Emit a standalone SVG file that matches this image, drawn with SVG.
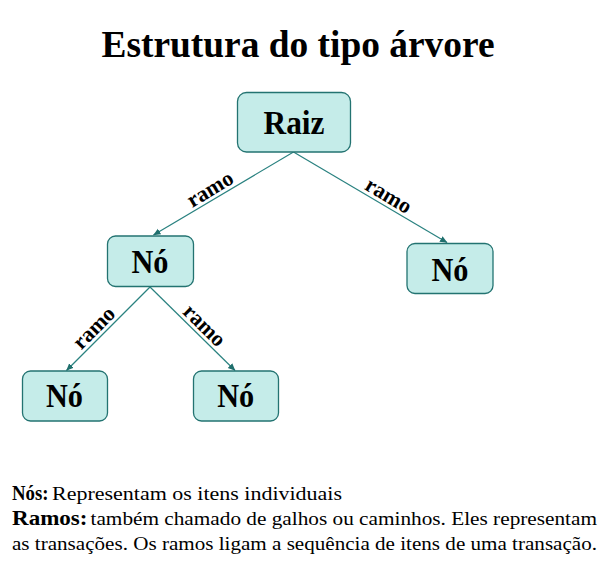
<svg xmlns="http://www.w3.org/2000/svg" width="616" height="566" viewBox="0 0 616 566">
<style>
.box{fill:#c5ece9;stroke:#237371;stroke-width:1.3}
.lbl{font-family:"Liberation Serif",serif;font-weight:bold;font-size:33px;fill:#000;text-anchor:middle}
.edge{stroke:#2a8280;stroke-width:1.2;fill:none}
.ramo{font-family:"Liberation Serif",serif;font-weight:bold;font-size:22px;fill:#000;text-anchor:middle}
.t{font-family:"Liberation Serif",serif;font-size:19.5px;fill:#000}
.b{font-weight:bold;font-size:21px}
</style>
<defs>
<marker id="ah" markerUnits="userSpaceOnUse" markerWidth="8" markerHeight="8" viewBox="0 0 8 8" refX="7" refY="4" orient="auto">
<path d="M0,0.8 L7.5,4 L0,7.2 Z" fill="#1f6f6d"/>
</marker>
</defs>
<rect width="616" height="566" fill="#fff"/>
<text x="298" y="57" font-family="Liberation Serif, serif" font-weight="bold" font-size="37" text-anchor="middle" textLength="393" lengthAdjust="spacingAndGlyphs">Estrutura do tipo árvore</text>
<g id="connectors">
<line class="edge" x1="293.5" y1="152" x2="153.5" y2="235" marker-end="url(#ah)"/>
<line class="edge" x1="293.5" y1="152" x2="447" y2="242.5" marker-end="url(#ah)"/>
<line class="edge" x1="150" y1="287" x2="66.5" y2="370.5" marker-end="url(#ah)"/>
<line class="edge" x1="150" y1="287" x2="235" y2="370.5" marker-end="url(#ah)"/>
<text class="ramo" transform="translate(215.8,198.5) rotate(-30.9)" y="-4" textLength="50" lengthAdjust="spacingAndGlyphs">ramo</text>
<text class="ramo" transform="translate(383,205) rotate(30.7)" y="-4" textLength="50" lengthAdjust="spacingAndGlyphs">ramo</text>
<text class="ramo" transform="translate(101.8,335.6) rotate(-45.2)" y="-4" textLength="50" lengthAdjust="spacingAndGlyphs">ramo</text>
<text class="ramo" transform="translate(196.8,333.3) rotate(44.7)" y="-4" textLength="50" lengthAdjust="spacingAndGlyphs">ramo</text>
</g>
<g id="raiz">
<rect class="box" x="237.5" y="92.5" width="113" height="59.5" rx="9"/>
<text class="lbl" x="294" y="133.5" textLength="61" lengthAdjust="spacingAndGlyphs">Raiz</text>
</g>
<g id="no1">
<rect class="box" x="107.5" y="236" width="86" height="50.5" rx="8"/>
<text class="lbl" x="150" y="273" textLength="37" lengthAdjust="spacingAndGlyphs">Nó</text>
</g>
<g id="no2">
<rect class="box" x="407" y="243.5" width="86" height="50" rx="8"/>
<text class="lbl" x="450" y="280.5" textLength="37" lengthAdjust="spacingAndGlyphs">Nó</text>
</g>
<g id="no3">
<rect class="box" x="22.5" y="371" width="85" height="50" rx="8"/>
<text class="lbl" x="64.5" y="407" textLength="37" lengthAdjust="spacingAndGlyphs">Nó</text>
</g>
<g id="no4">
<rect class="box" x="193.5" y="371" width="85" height="50" rx="8"/>
<text class="lbl" x="235.7" y="407" textLength="37" lengthAdjust="spacingAndGlyphs">Nó</text>
</g>
<g id="legenda">
<text class="t" y="500"><tspan class="b" x="12" textLength="36.5" lengthAdjust="spacingAndGlyphs">Nós:</tspan><tspan x="52" textLength="290" lengthAdjust="spacingAndGlyphs">Representam os itens individuais</tspan></text>
<text class="t" y="525"><tspan class="b" x="12" textLength="75.5" lengthAdjust="spacingAndGlyphs">Ramos:</tspan><tspan x="90.5" textLength="506.5" lengthAdjust="spacingAndGlyphs">também chamado de galhos ou caminhos. Eles representam</tspan></text>
<text class="t" y="550"><tspan x="12" textLength="585" lengthAdjust="spacingAndGlyphs">as transações. Os ramos ligam a sequência de itens de uma transação.</tspan></text>
</g>
</svg>
